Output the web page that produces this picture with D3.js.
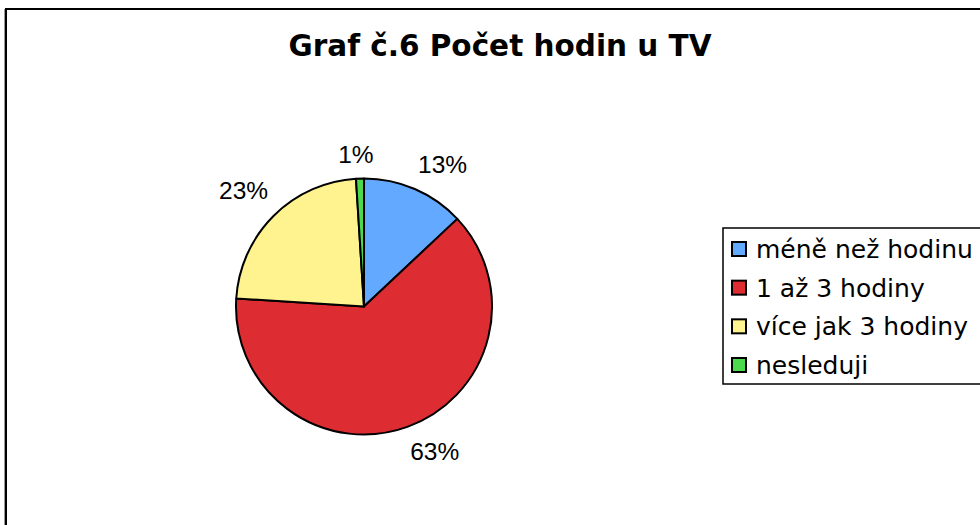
<!DOCTYPE html>
<html>
<head>
<meta charset="utf-8">
<script src="https://cdn.jsdelivr.net/npm/d3@7/dist/d3.min.js"></script>
<style>
html,body{margin:0;padding:0;background:#fff;}
svg{display:block;}
</style>
</head>
<body>
<svg id="chart" width="980" height="525"></svg>
<script>
const title = "Graf č.6 Počet hodin u TV";
const categories = ["méně než hodinu", "1 až 3 hodiny", "více jak 3 hodiny", "nesleduji"];
const values = [13, 63, 23, 1];
const labels = ["13%", "63%", "23%", "1%"];
const colors = ["#63A9FF", "#DD2D33", "#FFF38F", "#4CD94C"];

const svg = d3.select("#chart");
const W = 980, H = 525;

// outer frame
svg.append("rect").attr("x", 6).attr("y", 9).attr("width", W + 20).attr("height", H + 20)
  .attr("fill", "#fff").attr("stroke", "#000").attr("stroke-width", 2);
svg.append("line").attr("x1", 4.5).attr("x2", 4.5).attr("y1", 9).attr("y2", H)
  .attr("stroke", "#999").attr("stroke-width", 1);

// title
svg.append("text").attr("x", 500).attr("y", 55.5).attr("text-anchor", "middle")
  .attr("font-family", "DejaVu Sans, Verdana, sans-serif").attr("font-weight", "bold")
  .attr("font-size", 29.5).attr("fill", "#000").text(title);

const cx = 364, cy = 306.5, R = 128;
const data = categories.map((c, i) => ({cat: c, value: values[i], label: labels[i], color: colors[i]}));
const pie = d3.pie().value(d => d.value).sort(null);
const arcs = pie(data);
const arc = d3.arc().innerRadius(0).outerRadius(R);
const g = svg.append("g").attr("transform", `translate(${cx},${cy})`);
g.selectAll("path").data(arcs).enter().append("path")
  .attr("d", arc).attr("fill", d => d.data.color)
  .attr("stroke", "#000").attr("stroke-width", 2).attr("stroke-linejoin", "round");

const clamp = v => Math.max(-1, Math.min(1, v));
g.selectAll("text.lbl").data(arcs).enter().append("text").attr("class", "lbl")
  .attr("x", d => { const s = Math.sin((d.startAngle + d.endAngle) / 2); return 135 * s + 25 * clamp(5 * s); })
  .attr("y", d => { const c = Math.cos((d.startAngle + d.endAngle) / 2); return -(123 * c + 29 * clamp(5 * c)); })
  .attr("dy", "0.35em").attr("text-anchor", "middle")
  .attr("font-family", "Liberation Sans, Arial, sans-serif").attr("font-size", 24.5)
  .attr("fill", "#000").text(d => d.data.label);

// legend
const lx = 723, ly = 228, lh = 156;
svg.append("rect").attr("x", lx).attr("y", ly).attr("width", 300).attr("height", lh)
  .attr("fill", "#fff").attr("stroke", "#000").attr("stroke-width", 1.5);
const rowY = d3.scalePoint().domain(categories).range([249, 365]);
const leg = svg.selectAll("g.leg").data(data).enter().append("g").attr("class", "leg")
  .attr("transform", d => `translate(${lx}, ${rowY(d.cat)})`);
leg.append("rect").attr("x", 9).attr("y", -7).attr("width", 14).attr("height", 14)
  .attr("fill", d => d.color).attr("stroke", "#000").attr("stroke-width", 2);
leg.append("text").attr("x", 33).attr("y", 0).attr("dy", "0.36em")
  .attr("font-family", "DejaVu Sans, Verdana, sans-serif").attr("font-size", 25)
  .attr("fill", "#000").text(d => d.cat);
</script>
</body>
</html>
